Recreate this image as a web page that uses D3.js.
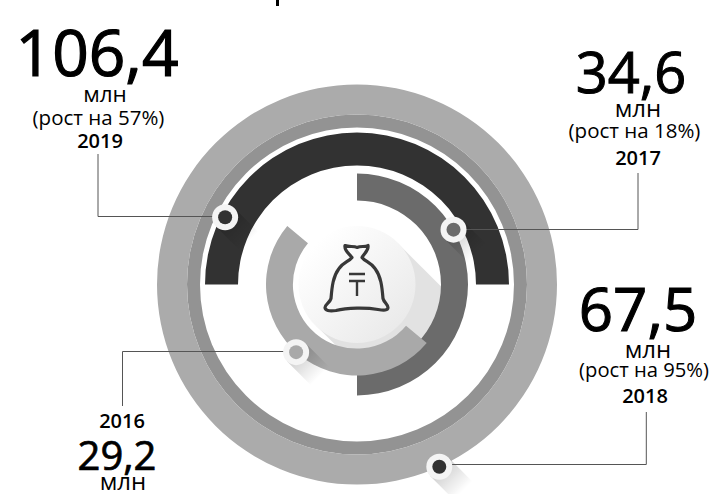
<!DOCTYPE html>
<meta charset="utf-8">
<style>
  html, body { margin: 0; background: #fff; }
  text { font-family: "Open Sans", "Noto Sans", sans-serif; fill: #000; text-anchor: middle; }
</style>
<svg width="709" height="494"></svg>
<script src="https://d3js.org/d3.v7.min.js"></script>
<script>

var years = ["2016", "2017", "2018", "2019"];
var values = ["29,2", "34,6", "67,5", "106,4"];
var growth = [null, "(рост на 18%)", "(рост на 95%)", "(рост на 57%)"];
// the source draws every year's arc as a half turn (the ring is a full one), values do not set the sweep
var arcStart = [130, 0, 0, -90];
var arcSweep = [180, 180, 360, 180];
var dotAngle = [222, 60.4, 155.7, -63];

var svg = d3.select("svg"),
    cx = 357,
    cy = 284.5;

var innerR = d3.scaleOrdinal().domain(years).range([64, 84, 170, 119]);
var outerR = d3.scaleOrdinal().domain(years).range([91, 111, 200, 152]);
var arcFill = d3.scaleOrdinal().domain(years).range(["#a9a9a9", "#6b6b6b", "#ababab", "#323232"]);
var dotFill = d3.scaleOrdinal().domain(years).range(["#a9a9a9", "#6b6b6b", "#323232", "#323232"]);

var angle = d3.scaleLinear().domain([0, 360]).range([0, 2 * Math.PI]);

var defs = svg.append("defs");

var shadowGrad = defs.append("linearGradient").attr("id", "shadow");
shadowGrad.append("stop").attr("offset", 0).attr("stop-color", "#000").attr("stop-opacity", 0.2);
shadowGrad.append("stop").attr("offset", 1).attr("stop-color", "#000").attr("stop-opacity", 0);

var discGrad = defs.append("linearGradient").attr("id", "disc")
    .attr("x1", 0).attr("y1", 0).attr("x2", 1).attr("y2", 1);
discGrad.append("stop").attr("offset", 0.15).attr("stop-color", "#ffffff");
discGrad.append("stop").attr("offset", 0.9).attr("stop-color", "#e9e9e9");

// descender of the title that the crop cuts off at the top edge
svg.append("rect").attr("x", 276).attr("y", 0).attr("width", 3).attr("height", 6).attr("fill", "#000");

var chart = svg.append("g").attr("transform", "translate(" + cx + "," + cy + ")");

// long shadow of the centre disc, under the arcs
chart.append("rect")
    .attr("transform", "rotate(45)")
    .attr("x", 0).attr("y", -58).attr("width", 92).attr("height", 116)
    .attr("fill", "#e2e2e2");

var arc = d3.arc();

// full ring: dark inner band first, light band over it
chart.append("path")
    .attr("fill", "#939393")
    .attr("d", arc({innerRadius: 157, outerRadius: 170, startAngle: 0, endAngle: 2 * Math.PI}));

chart.selectAll("path.year")
    .data(years)
    .enter().append("path")
    .attr("class", "year")
    .attr("fill", function(d) { return arcFill(d); })
    .attr("d", function(d, i) {
      return arc({
        innerRadius: innerR(d),
        outerRadius: outerR(d),
        startAngle: angle(arcStart[i]),
        endAngle: angle(arcStart[i] + arcSweep[i])
      });
    });

// 2016 sits above 2017
chart.selectAll("path.year").filter(function(d) { return d == "2016"; }).raise();

// centre disc
chart.append("circle").attr("r", 58.5).attr("fill", "url(#disc)");

// money bag icon
var bag = chart.append("g")
    .attr("fill", "none").attr("stroke", "#383838").attr("stroke-width", 3.2)
    .attr("stroke-linejoin", "round").attr("stroke-linecap", "round");
bag.append("path").attr("d",
    "M-12,-39 C-8,-37 -3,-39 0,-37 C4,-39 8,-37 11,-39 C12,-34 7,-31 5,-27 C8,-23 14,-22 18,-16 C24,-8 25,2 26,14 C27,18 31,20 31,23 C31,26 27,26 21,25 C10,23 -10,23 -21,26 C-28,27 -32,26 -32,23 C-32,20 -27,18 -26,14 C-25,2 -24,-8 -18,-16 C-14,-22 -8,-23 -5,-27 C-8,-31 -13,-34 -12,-39 Z");
bag.append("path").attr("stroke-linecap", "butt").attr("stroke-width", 2.4).attr("d", "M-8,-10.5 H8 M-8,-3.5 H8 M0,-3.5 V11.5");

// leader lines and dots
var leaders = [
  {year: "2016", x: 122.5, y: 406, dy: 0},
  {year: "2017", x: 638, y: 173, dy: 0},
  {year: "2018", x: 646.3, y: 412, dy: -2},
  {year: "2019", x: 98, y: 154, dy: 0}
];

function dotPos(i) {
  var a = angle(dotAngle[i]) - Math.PI / 2, r = outerR(years[i]) - (years[i] == "2019" ? 4 : 0);
  return [cx + r * Math.cos(a), cy + r * Math.sin(a)];
}

var marks = svg.append("g");

leaders.forEach(function(l, i) {
  var p = dotPos(i);
  // dot's long shadow
  marks.append("rect")
    .attr("transform", "translate(" + p[0] + "," + p[1] + ") rotate(45)")
    .attr("x", 0).attr("y", -13).attr("width", 34).attr("height", 26)
    .attr("fill", "url(#shadow)");
  marks.append("path")
    .attr("fill", "none").attr("stroke", "#555").attr("stroke-width", 1)
    .attr("d", "M" + l.x + "," + l.y + " V" + (Math.round(p[1]) - 0.5 + l.dy) + " H" + p[0]);
  marks.append("circle")
    .attr("cx", p[0]).attr("cy", p[1]).attr("r", 13).attr("fill", "#f4f4f4");
  marks.append("circle")
    .attr("cx", p[0]).attr("cy", p[1]).attr("r", 7).attr("fill", dotFill(l.year));
});

// labels
function label(x, y, txt, size, weight, thick) {
  svg.append("text").attr("x", x).attr("y", y)
    .attr("font-size", size).attr("font-weight", weight || 400)
    .attr("stroke", thick ? "#000" : "none").attr("stroke-width", thick || 0)
    .text(txt);
}

label(97, 76, values[3], 64, 400, 1.2);
label(105, 102, "млн", 22.5);
label(98.5, 125, growth[3], 20.5);
label(100, 148, years[3], 20, 600);

label(631, 93, values[1], 56, 400, 1);
label(638, 117, "млн", 24);
label(634.5, 138, growth[1], 20.5);
label(638, 165, years[1], 20, 600);

label(638, 331, values[2], 60, 400, 1.1);
label(648, 358, "млн", 24);
label(644, 377, growth[2], 20.2);
label(645, 403, years[2], 20, 600);

label(122, 428, years[0], 20, 600);
label(117, 470, values[0], 40, 400, 0.7);
label(123, 490, "млн", 24);

</script>
